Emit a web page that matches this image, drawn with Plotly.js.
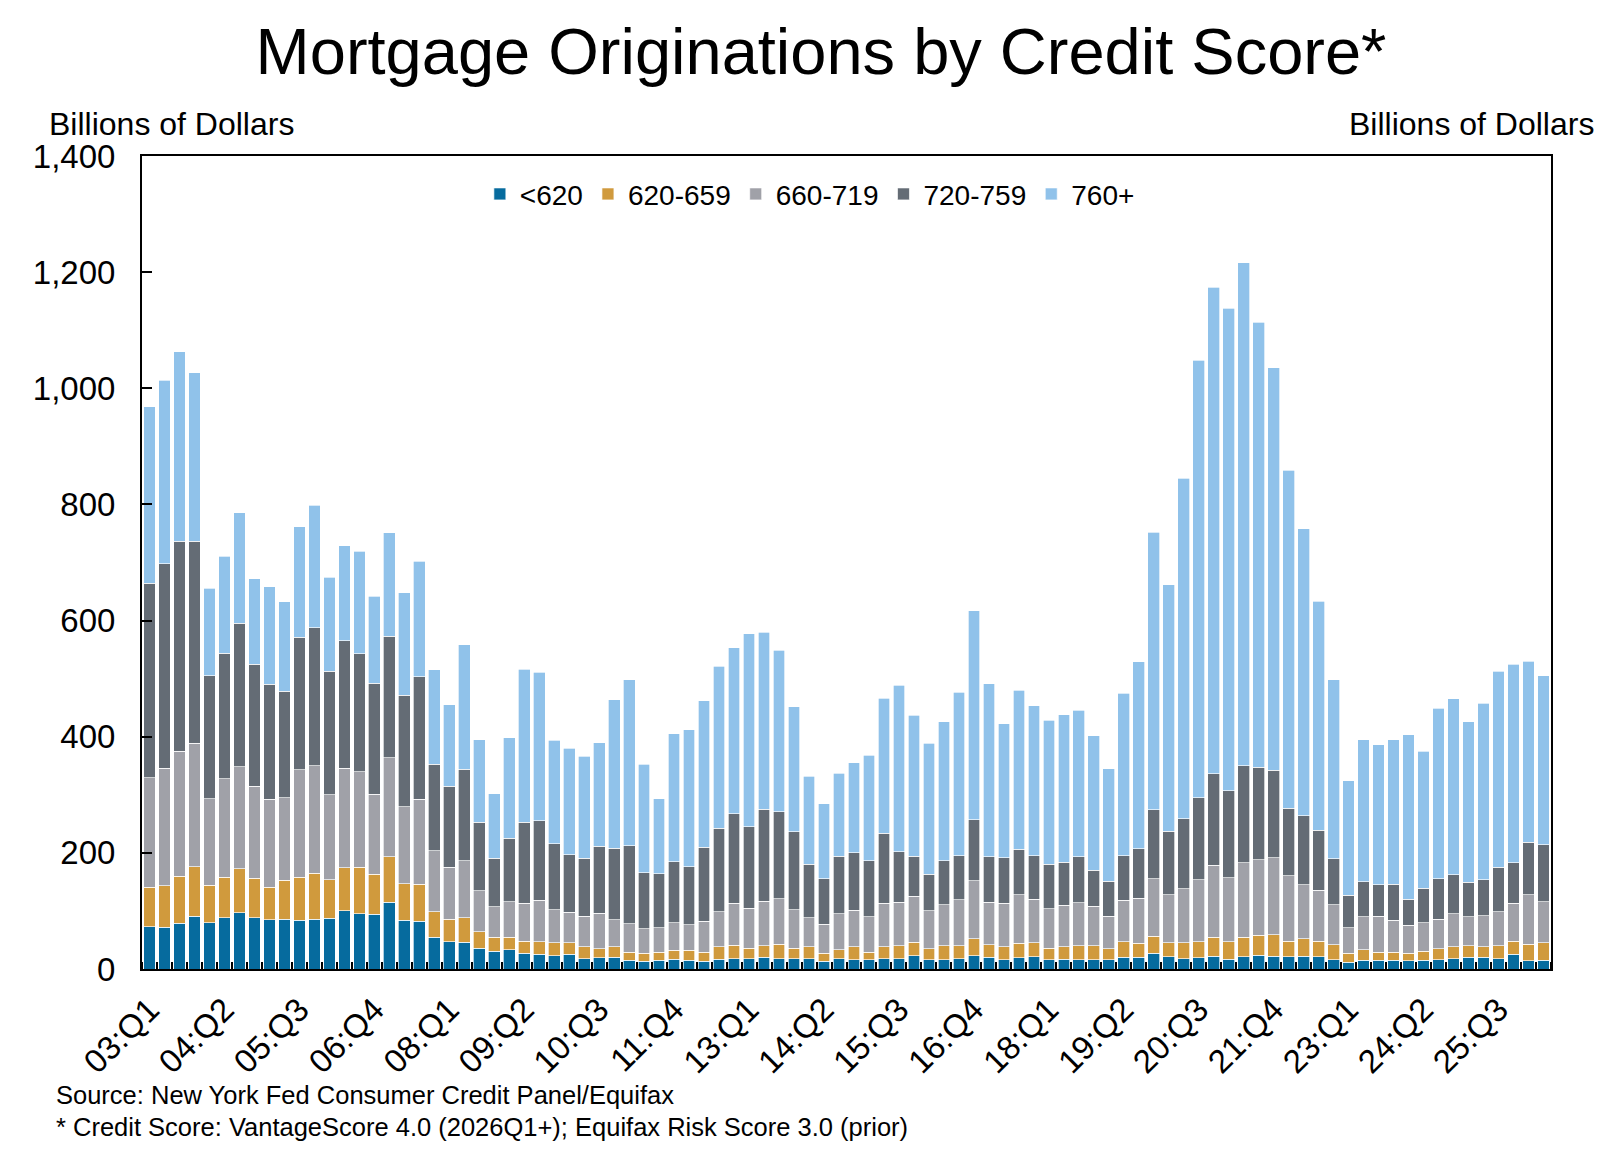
<!DOCTYPE html>
<html>
<head>
<meta charset="utf-8">
<script src="https://cdn.plot.ly/plotly-3.0.1.min.js"></script>
<style>
    html, body { margin: 0; padding: 0; background: #ffffff; }
    #chart { width: 1602px; height: 1152px; }
</style>
</head>
<body>
<div id="chart"></div>
<script>
    // Quarters, 2003:Q1 through 2026:Q2
    const quarters = [
        '03:Q1', '03:Q2', '03:Q3', '03:Q4', '04:Q1', '04:Q2', '04:Q3', '04:Q4',
        '05:Q1', '05:Q2', '05:Q3', '05:Q4', '06:Q1', '06:Q2', '06:Q3', '06:Q4',
        '07:Q1', '07:Q2', '07:Q3', '07:Q4', '08:Q1', '08:Q2', '08:Q3', '08:Q4',
        '09:Q1', '09:Q2', '09:Q3', '09:Q4', '10:Q1', '10:Q2', '10:Q3', '10:Q4',
        '11:Q1', '11:Q2', '11:Q3', '11:Q4', '12:Q1', '12:Q2', '12:Q3', '12:Q4',
        '13:Q1', '13:Q2', '13:Q3', '13:Q4', '14:Q1', '14:Q2', '14:Q3', '14:Q4',
        '15:Q1', '15:Q2', '15:Q3', '15:Q4', '16:Q1', '16:Q2', '16:Q3', '16:Q4',
        '17:Q1', '17:Q2', '17:Q3', '17:Q4', '18:Q1', '18:Q2', '18:Q3', '18:Q4',
        '19:Q1', '19:Q2', '19:Q3', '19:Q4', '20:Q1', '20:Q2', '20:Q3', '20:Q4',
        '21:Q1', '21:Q2', '21:Q3', '21:Q4', '22:Q1', '22:Q2', '22:Q3', '22:Q4',
        '23:Q1', '23:Q2', '23:Q3', '23:Q4', '24:Q1', '24:Q2', '24:Q3', '24:Q4',
        '25:Q1', '25:Q2', '25:Q3', '25:Q4', '26:Q1', '26:Q2'
    ];

    // Labelled quarters on the x axis
    const tickLabels = [
        '03:Q1', '04:Q2', '05:Q3', '06:Q4', '08:Q1', '09:Q2', '10:Q3', '11:Q4',
        '13:Q1', '14:Q2', '15:Q3', '16:Q4', '18:Q1', '19:Q2', '20:Q3', '21:Q4',
        '23:Q1', '24:Q2', '25:Q3'
    ];

    // Originations by score band, billions of dollars
    const below620 = [
        73, 72, 79, 91, 80, 88, 97, 88, 85, 86, 84, 86, 87, 100, 95, 94,
        115, 84, 82, 55, 47, 46, 36, 31, 33, 27, 25, 23, 25, 18, 19, 20,
        15, 13, 15, 17, 15, 13, 17, 18, 18, 20, 18, 18, 18, 13, 18, 16,
        16, 18, 18, 23, 16, 16, 18, 23, 20, 16, 19, 21, 16, 17, 16, 16,
        16, 20, 20, 27, 21, 18, 19, 22, 17, 21, 24, 22, 21, 22, 21, 16,
        12, 15, 15, 15, 14, 15, 16, 18, 20, 20, 18, 25, 14, 15
    ];
    const s620to659 = [
        68, 71, 81, 85, 64, 70, 76, 68, 56, 67, 74, 79, 67, 74, 80, 69,
        78, 63, 64, 44, 39, 42, 28, 24, 22, 21, 22, 22, 20, 20, 16, 18,
        14, 14, 14, 15, 17, 16, 21, 23, 18, 20, 25, 18, 20, 14, 15, 22,
        13, 20, 22, 23, 19, 24, 22, 29, 22, 22, 25, 24, 20, 21, 24, 24,
        19, 27, 24, 29, 24, 27, 28, 33, 30, 34, 34, 37, 27, 30, 27, 26,
        15, 18, 14, 14, 13, 16, 19, 20, 20, 18, 22, 23, 29, 30
    ];
    const s660to719 = [
        188, 203, 215, 213, 149, 170, 175, 159, 151, 142, 185, 185, 146, 172, 165, 138,
        171, 132, 146, 105, 89, 98, 71, 52, 61, 65, 71, 57, 53, 53, 61, 47,
        49, 42, 42, 48, 44, 53, 61, 72, 69, 77, 78, 66, 50, 50, 62, 63,
        61, 75, 75, 79, 65, 71, 79, 100, 73, 75, 84, 75, 68, 72, 74, 68,
        56, 71, 78, 99, 83, 93, 107, 124, 110, 128, 130, 133, 113, 93, 88, 69,
        44, 57, 62, 55, 48, 49, 51, 57, 50, 54, 59, 65, 85, 71
    ];
    const s720to759 = [
        335, 352, 362, 348, 212, 216, 247, 210, 198, 183, 228, 238, 213, 219, 203, 191,
        209, 192, 211, 149, 140, 158, 118, 84, 109, 140, 137, 114, 99, 100, 115, 123,
        134, 97, 93, 105, 100, 128, 143, 154, 140, 158, 150, 134, 92, 78, 99, 99,
        96, 121, 87, 69, 63, 75, 76, 105, 78, 79, 78, 75, 76, 74, 79, 62,
        60, 77, 85, 119, 109, 121, 141, 157, 150, 167, 159, 150, 116, 119, 103, 79,
        56, 60, 54, 62, 45, 59, 69, 67, 59, 62, 76, 70, 90, 98
    ];
    const s760plus = [
        304, 316, 326, 290, 151, 167, 191, 147, 168, 154, 191, 211, 162, 164, 176, 150,
        178, 177, 199, 162, 140, 214, 142, 111, 173, 263, 256, 178, 183, 175, 179, 256,
        286, 187, 129, 220, 236, 252, 279, 286, 332, 305, 278, 216, 152, 130, 143, 155,
        182, 232, 287, 243, 226, 240, 282, 360, 298, 230, 274, 258, 248, 254, 253, 232,
        194, 280, 322, 478, 425, 586, 753, 838, 831, 866, 767, 693, 582, 494, 394, 308,
        197, 245, 241, 249, 283, 236, 294, 303, 277, 304, 338, 342, 312, 291
    ];

    const bandNames = ['<620', '620-659', '660-719', '720-759', '760+'];
    const bandValues = [below620, s620to659, s660to719, s720to759, s760plus];
    const bandColors = ['#066b9e', '#d09a3d', '#a0a1a8', '#646c75', '#90c2ea'];

    const fontFamily = 'Liberation Sans, Arial, Helvetica, sans-serif';

    // Bars sit at quarter positions 0..93 on a linear axis
    const xPos = quarters.map((q, i) => i);

    const traces = bandNames.map((name, k) => ({
        x: xPos,
        y: bandValues[k],
        type: 'bar',
        name: name,
        marker: {
            color: bandColors[k],
            line: { color: 'rgba(255,255,255,0.85)', width: 0.8 }
        },
        hovertemplate: '%{customdata}<br>' + name + ': %{y:,.0f}<extra></extra>',
        customdata: quarters
    }));

    const layout = {
        width: 1602,
        height: 1152,
        barmode: 'stack',
        bargap: 0.22,
        paper_bgcolor: '#ffffff',
        plot_bgcolor: '#ffffff',
        margin: { t: 156, r: 51, b: 183, l: 142 },
        font: { family: fontFamily, size: 29, color: '#000000' },
        title: {
            text: 'Mortgage Originations by Credit Score*',
            font: { family: fontFamily, size: 65, color: '#000000' },
            x: 0.5125,
            xanchor: 'center',
            y: 0.9557,
            yanchor: 'middle'
        },
        showlegend: true,
        legend: {
            orientation: 'h',
            traceorder: 'normal',
            x: 0.474,
            xanchor: 'center',
            y: 0.953,
            yanchor: 'middle',
            bgcolor: 'rgba(0,0,0,0)',
            font: { family: fontFamily, size: 28, color: '#000000' }
        },
        xaxis: {
            range: [-0.5, quarters.length - 0.5],
            tickmode: 'array',
            tickvals: tickLabels.map(l => quarters.indexOf(l)),
            ticktext: tickLabels,
            tickangle: -45,
            ticks: '',
            ticklabelstandoff: 6,
            tickfont: { family: fontFamily, size: 33, color: '#000000' },
            minor: {
                tick0: -0.5,
                dtick: 1,
                ticks: 'inside',
                ticklen: 7,
                tickwidth: 1.5,
                tickcolor: '#000000',
                showgrid: false
            },
            showgrid: false,
            zeroline: false,
            showline: true,
            linecolor: '#000000',
            linewidth: 2,
            mirror: true,
            fixedrange: true
        },
        yaxis: {
            range: [0, 1400],
            tickmode: 'linear',
            tick0: 0,
            dtick: 200,
            tickformat: ',d',
            ticks: 'inside',
            ticklen: 10,
            tickwidth: 2,
            tickcolor: '#000000',
            ticklabelstandoff: 18,
            tickfont: { family: fontFamily, size: 33, color: '#000000' },
            showgrid: false,
            zeroline: false,
            showline: true,
            linecolor: '#000000',
            linewidth: 2,
            mirror: true,
            fixedrange: true
        },
        annotations: [
            {
                text: 'Billions of Dollars',
                xref: 'paper', yref: 'paper',
                x: -0.0675, y: 1.0394,
                xanchor: 'left', yanchor: 'middle',
                showarrow: false,
                font: { family: fontFamily, size: 32, color: '#000000' }
            },
            {
                text: 'Billions of Dollars',
                xref: 'paper', yref: 'paper',
                x: 1.032, y: 1.0394,
                xanchor: 'right', yanchor: 'middle',
                showarrow: false,
                font: { family: fontFamily, size: 32, color: '#000000' }
            },
            {
                text: 'Source: New York Fed Consumer Credit Panel/Equifax',
                xref: 'paper', yref: 'paper',
                x: -0.0625, y: -0.155,
                xanchor: 'left', yanchor: 'middle',
                showarrow: false,
                font: { family: fontFamily, size: 25.5, color: '#000000' }
            },
            {
                text: '* Credit Score: VantageScore 4.0 (2026Q1+); Equifax Risk Score 3.0 (prior)',
                xref: 'paper', yref: 'paper',
                x: -0.0625, y: -0.1943,
                xanchor: 'left', yanchor: 'middle',
                showarrow: false,
                font: { family: fontFamily, size: 25.5, color: '#000000' }
            }
        ]
    };

    const config = { displayModeBar: false, responsive: false, staticPlot: false };

    Plotly.newPlot('chart', traces, layout, config);
</script>
</body>
</html>
